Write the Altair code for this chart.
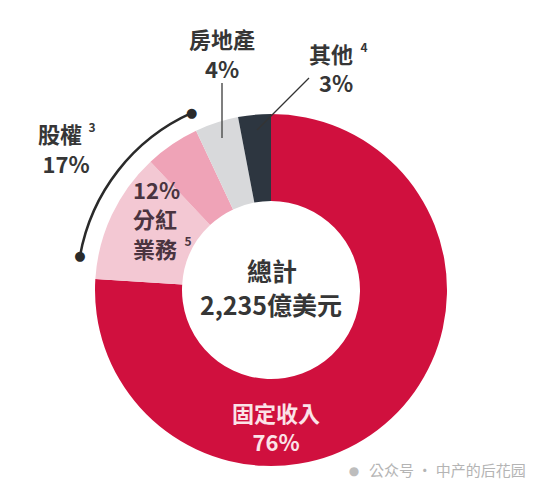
import math
import altair as alt
import pandas as pd

# ---- data ----
categories = ["固定收入", "分紅業務", "其他股權", "房地產", "其他"]
shares = [76, 12, 5, 4, 3]
colors = ["#D0103E", "#F3C8D3", "#EFA3B7", "#D8D9DB", "#2D3640"]

bracket_start = [77.8]
bracket_end = [93.3]

lbl_real_estate = ["房地產", "4%"]
lbl_other = ["其他", "3%", "4"]
lbl_equity = ["股權", "17%", "3"]
lbl_dividend = ["12%", "分紅", "業務", "5"]
lbl_total = ["總計", "2,235億美元"]
lbl_fixed = ["固定收入", "76%"]
watermark = "公众号 · 中产的后花园"

# ---- layout ----
W, H = 524, 471
CX, CY = 263, 282
R_OUT, R_IN, R_BR = 176, 89, 194
FONT = "Noto Sans CJK TC"
DARK = "#363636"

df = pd.DataFrame({"cat": categories, "share": shares, "idx": list(range(len(categories)))})
theta_scale = alt.Scale(domain=[0, 100], range=[0, 2 * math.pi])

donut = alt.Chart(df).mark_arc(outerRadius=R_OUT, innerRadius=R_IN).encode(
    theta=alt.Theta("share:Q", stack=True, scale=theta_scale),
    color=alt.Color("cat:N", scale=alt.Scale(domain=categories, range=colors), legend=None),
    order=alt.Order("idx:Q"),
    x=alt.value(CX),
    y=alt.value(CY),
)

bdf = pd.DataFrame({"start": bracket_start, "end": bracket_end})
bracket = alt.Chart(bdf).mark_arc(
    outerRadius=R_BR, innerRadius=R_BR, filled=False, stroke="#2a2a2a", strokeWidth=2.5
).encode(
    theta=alt.Theta("start:Q", scale=theta_scale, stack=None),
    theta2="end:Q",
    x=alt.value(CX),
    y=alt.value(CY),
)

ddf = pd.DataFrame({"pos": bracket_start + bracket_end})
dots = alt.Chart(ddf).mark_text(
    text="●", fontSize=13, color="#2a2a2a", align="center", baseline="middle", font="DejaVu Sans"
).encode(
    theta=alt.Theta("pos:Q", scale=theta_scale, stack=None),
    radius=alt.value(R_BR),
    x=alt.value(CX),
    y=alt.value(CY),
)


def txt(s, x, y, size=22, color=DARK, weight="bold", align="center", font=FONT):
    return alt.Chart(df).transform_filter("datum.idx == 0").mark_text(
        text=s, fontSize=size, fontWeight=weight, color=color, font=font,
        align=align, baseline="middle",
    ).encode(x=alt.value(x), y=alt.value(y))


def rule(x1, y1, x2, y2, color="#333333", w=1.3):
    return alt.Chart(df).transform_filter("datum.idx == 0").mark_rule(
        color=color, strokeWidth=w
    ).encode(x=alt.value(x1), y=alt.value(y1), x2=alt.value(x2), y2=alt.value(y2))


layers = [
    donut, bracket, dots,
    rule(214, 75, 214, 130, color="#555555", w=1.5),
    rule(301, 70, 249, 122),
    txt(lbl_real_estate[0], 214, 33),
    txt(lbl_real_estate[1], 214, 63),
    txt(lbl_other[0], 323, 48),
    txt(lbl_other[1], 328, 77),
    txt(lbl_other[2], 356, 40, size=12),
    txt(lbl_equity[0], 52, 128),
    txt(lbl_equity[1], 58, 158),
    txt(lbl_equity[2], 84, 120, size=12),
    txt(lbl_dividend[0], 125, 184, color="#4a3440", align="left"),
    txt(lbl_dividend[1], 125, 213, color="#4a3440", align="left"),
    txt(lbl_dividend[2], 125, 243, color="#4a3440", align="left"),
    txt(lbl_dividend[3], 180, 234, size=12, color="#4a3440"),
    txt(lbl_total[0], 264, 265, size=25),
    txt(lbl_total[1], 263, 299, size=25),
    txt(lbl_fixed[0], 268, 407, size=22, color="#FBE3E8"),
    txt(lbl_fixed[1], 268, 436, size=22, color="#FBE3E8"),
    txt("●", 346, 463, size=12, color="#bdbdbd", weight="normal", font="DejaVu Sans"),
    txt(watermark, 361, 463, size=15, color="#b4b4b4", weight="normal", align="left"),
]

chart = alt.layer(*layers).properties(
    width=W, height=H, padding=0, autosize=alt.AutoSizeParams(type="none")
).configure_view(stroke=None)

chart.save("out.html", embed_options={"renderer": "svg", "actions": False})
